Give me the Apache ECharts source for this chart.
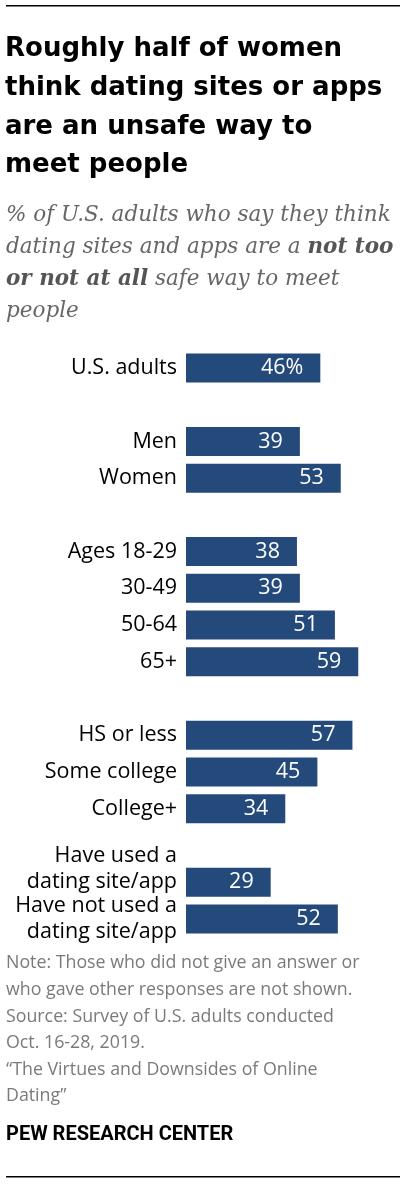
<!DOCTYPE html>
<html>
<head>
<meta charset="utf-8">
<script src="https://cdn.jsdelivr.net/npm/echarts@6/dist/echarts.min.js"></script>
<style>
html,body{margin:0;padding:0;background:#fff;}
#chart{width:406px;height:1184px;}
</style>
</head>
<body>
<div id="chart"></div>
<script>
// Data
const categories = ['U.S. adults', '', 'Men', 'Women', ' ', 'Ages 18-29', '30-49', '50-64', '65+', '  ', 'HS or less', 'Some college', 'College+', '   ', 'Have used a\ndating site/app', 'Have not used a\ndating site/app'];
const values = [46, null, 39, 53, null, 38, 39, 51, 59, null, 57, 45, 34, null, 29, 52];
const valueLabels = ['46%', '', '39', '53', '', '38', '39', '51', '59', '', '57', '45', '34', '', '29', '52'];

const titleText = 'Roughly half of women\nthink dating sites or apps\nare an unsafe way to\nmeet people';
const noteText = 'Note: Those who did not give an answer or\nwho gave other responses are not shown.\nSource: Survey of U.S. adults conducted\nOct. 16-28, 2019.\n\u201cThe Virtues and Downsides of Online\nDating\u201d';

const chart = echarts.init(document.getElementById('chart'), null, {renderer: 'canvas'});
const sans = '"Open Sans", Roboto, sans-serif';
const titleFont = '"DejaVu Sans", sans-serif';
const serif = '"DejaVu Serif", Georgia, serif';

chart.setOption({
  animation: false,
  backgroundColor: '#fff',
  graphic: [
    {type: 'rect', shape: {x: 6, y: 5, width: 394, height: 1.5}, style: {fill: '#000'}},
    {type: 'rect', shape: {x: 6, y: 1176, width: 394, height: 1.5}, style: {fill: '#000'}},
    {type: 'text', x: 5, y: 30, style: {
      text: titleText, font: 'bold 26px ' + titleFont, fill: '#000', lineHeight: 38.7
    }},
    {type: 'text', x: 6, y: 199, style: {
      text: '{i|% of U.S. adults who say they think}\n{i|dating sites and apps are a }{b|not too}\n{b|or not at all}{i| safe way to meet}\n{i|people}',
      rich: {
        i: {font: 'italic 21.5px ' + serif, fill: '#666', lineHeight: 32},
        b: {font: 'italic bold 21.5px ' + serif, fill: '#555', lineHeight: 32}
      }
    }},
    {type: 'text', x: 6, y: 950, style: {
      text: noteText, font: '17.8px ' + sans, fill: '#7a7a7a', lineHeight: 26.6
    }},
    {type: 'text', x: 6, y: 1125, style: {
      text: 'PEW RESEARCH CENTER', font: 'bold 20px Roboto, sans-serif', fill: '#000'
    }}
  ],
  grid: {left: 186, top: 349.6, width: 219, height: 587.7, containLabel: false},
  xAxis: {type: 'value', min: 0, max: 75, show: false},
  yAxis: {
    type: 'category', data: categories, inverse: true,
    axisLine: {show: false}, axisTick: {show: false},
    axisLabel: {
      interval: 0, margin: 9, color: '#000', fontFamily: sans, fontSize: 21.5, lineHeight: 26,
      padding: [0, 0, 6, 0],
      formatter: function (v) {
        if (v.indexOf('Have used') === 0) return v + '\n ';
        return v;
      }
    }
  },
  series: [{
    type: 'bar', data: values, barWidth: 29,
    itemStyle: {color: '#244a7c'},
    label: {
      show: true, position: 'insideRight', distance: 17,
      color: '#fff', fontFamily: sans, fontSize: 21.5,
      formatter: function (p) { return valueLabels[p.dataIndex]; }
    }
  }]
});
</script>
</body>
</html>
